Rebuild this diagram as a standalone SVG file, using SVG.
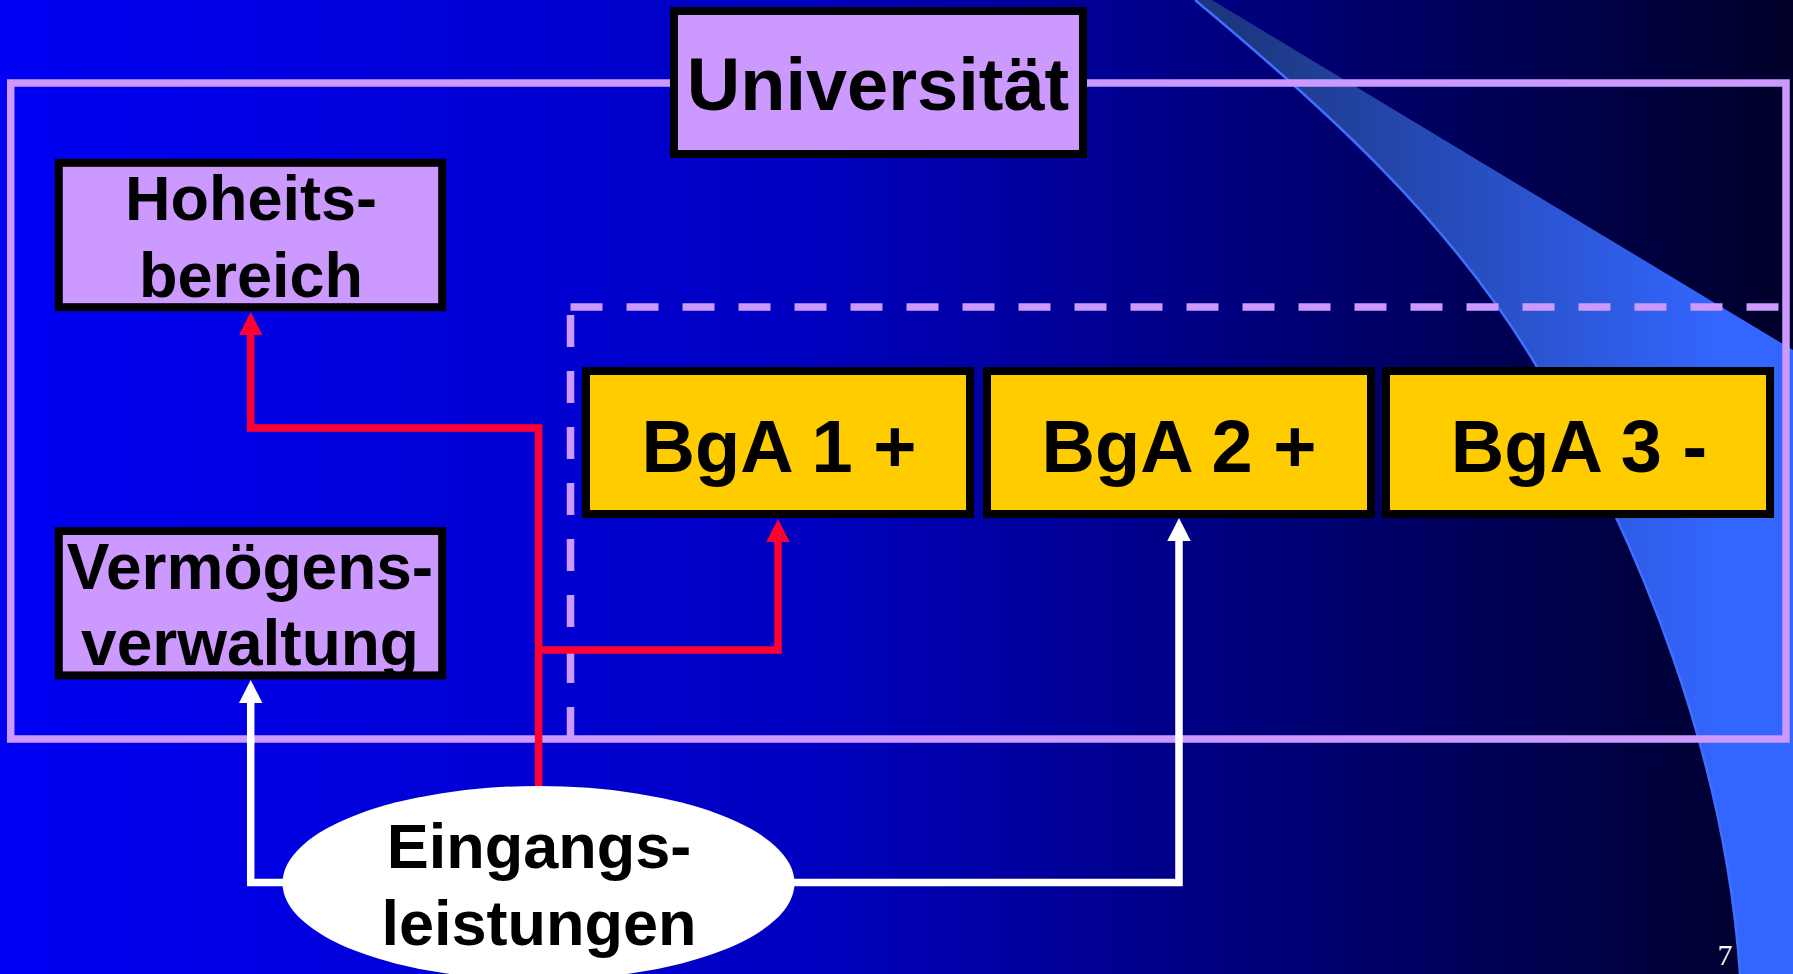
<svg xmlns="http://www.w3.org/2000/svg" width="1793" height="974" viewBox="0 0 1793 974">
  <defs>
    <linearGradient id="bg" x1="0" y1="0" x2="1793" y2="0" gradientUnits="userSpaceOnUse">
      <stop offset="0" stop-color="#0000F4"/>
      <stop offset="0.45" stop-color="#0000C0"/>
      <stop offset="1" stop-color="#000028"/>
    </linearGradient>
    <linearGradient id="swoosh" x1="1230" y1="0" x2="1720" y2="0" gradientUnits="userSpaceOnUse">
      <stop offset="0" stop-color="#1C3680"/>
      <stop offset="1" stop-color="#3366FF"/>
    </linearGradient>
    <marker id="arrRed" markerUnits="userSpaceOnUse" markerWidth="24" markerHeight="24" refX="0" refY="11.75" orient="auto">
      <path d="M0,0 L23,11.75 L0,23.5 z" fill="#FF0033"/>
    </marker>
    <marker id="arrWhite" markerUnits="userSpaceOnUse" markerWidth="24" markerHeight="24" refX="0" refY="11.75" orient="auto">
      <path d="M0,0 L23,11.75 L0,23.5 z" fill="#FFFFFF"/>
    </marker>
  </defs>
  <style>
    .lbl { font-family: "Liberation Sans", Arial, sans-serif; font-weight: bold; fill: #000000; text-anchor: middle; }
    .lilac { fill: #CC99FF; stroke: #000000; stroke-width: 8; }
    .gold { fill: #FFCC00; stroke: #000000; stroke-width: 8; }
    .frame { fill: none; stroke: #CC99FF; stroke-width: 7.5; }
    .dash { fill: none; stroke: #CC99FF; stroke-width: 7.5; stroke-dasharray: 32 24; }
    .red { fill: none; stroke: #FF0033; stroke-width: 7.5; marker-end: url(#arrRed); }
    .white { fill: none; stroke: #FFFFFF; stroke-width: 7.5; marker-end: url(#arrWhite); }
  </style>

  <!-- slide background -->
  <rect x="0" y="0" width="1793" height="974" fill="url(#bg)"/>

  <!-- decorative swoosh on the right -->
  <path d="M1195,0 L1212,0 L1793,350 L1793,974 L1740,974 C1725.6,761 1645,550 1537,367 C1452,223 1323.6,107 1195,0 Z" fill="url(#swoosh)"/>
  <path d="M1740,974 C1725.6,761 1645,550 1537,367 C1452,223 1323.6,107 1195,0" fill="none" stroke="#3F6FFF" stroke-width="2.5"/>

  <!-- university frame and business-activity area -->
  <rect class="frame" x="10.7" y="83" width="1775.3" height="656"/>
  <g id="bga-area">
    <line class="dash" x1="570.5" y1="307" x2="1780" y2="307"/>
    <line class="dash" x1="570.5" y1="315" x2="570.5" y2="739"/>
  </g>

  <!-- connectors -->
  <g id="connectors">
    <polyline class="red" points="538.6,800 538.6,428 250.7,428 250.7,335"/>
    <polyline class="red" points="538.6,650 778,650 778,542"/>
    <polyline class="white" points="300,882.5 250.7,882.5 250.7,703"/>
    <polyline class="white" points="780,882.5 1179,882.5 1179,541"/>
  </g>

  <!-- nodes -->
  <g id="universitaet">
    <rect class="lilac" x="674" y="11" width="409" height="143"/>
    <text class="lbl" x="878" y="110" font-size="74">Universität</text>
  </g>
  <g id="hoheitsbereich">
    <rect class="lilac" x="58.8" y="162.8" width="383.4" height="144.4"/>
    <text class="lbl" x="251" y="220" font-size="63">Hoheits-</text>
    <text class="lbl" x="251" y="297" font-size="63">bereich</text>
  </g>
  <g id="vermoegensverwaltung">
    <rect class="lilac" x="58.8" y="531" width="383.4" height="144.4"/>
    <text class="lbl" x="250" y="589" font-size="64">Vermögens-</text>
    <text class="lbl" x="250" y="665" font-size="64">verwaltung</text>
  </g>
  <g id="bga1">
    <rect class="gold" x="586" y="371" width="384" height="143"/>
    <text class="lbl" x="779" y="471.5" font-size="74">BgA 1 +</text>
  </g>
  <g id="bga2">
    <rect class="gold" x="987" y="371" width="384" height="143"/>
    <text class="lbl" x="1179" y="471.5" font-size="74">BgA 2 +</text>
  </g>
  <g id="bga3">
    <rect class="gold" x="1386" y="371" width="384" height="143"/>
    <text class="lbl" x="1579" y="471.5" font-size="74">BgA 3 -</text>
  </g>
  <g id="eingangsleistungen">
    <ellipse cx="538.5" cy="883" rx="256" ry="97" fill="#FFFFFF"/>
    <text class="lbl" x="539" y="868" font-size="63">Eingangs-</text>
    <text class="lbl" x="539" y="945" font-size="63">leistungen</text>
  </g>

  <!-- page number -->
  <text x="1725" y="965" font-family="'Liberation Serif', 'Times New Roman', serif" font-size="30" fill="#FFFFFF" text-anchor="middle">7</text>
</svg>
